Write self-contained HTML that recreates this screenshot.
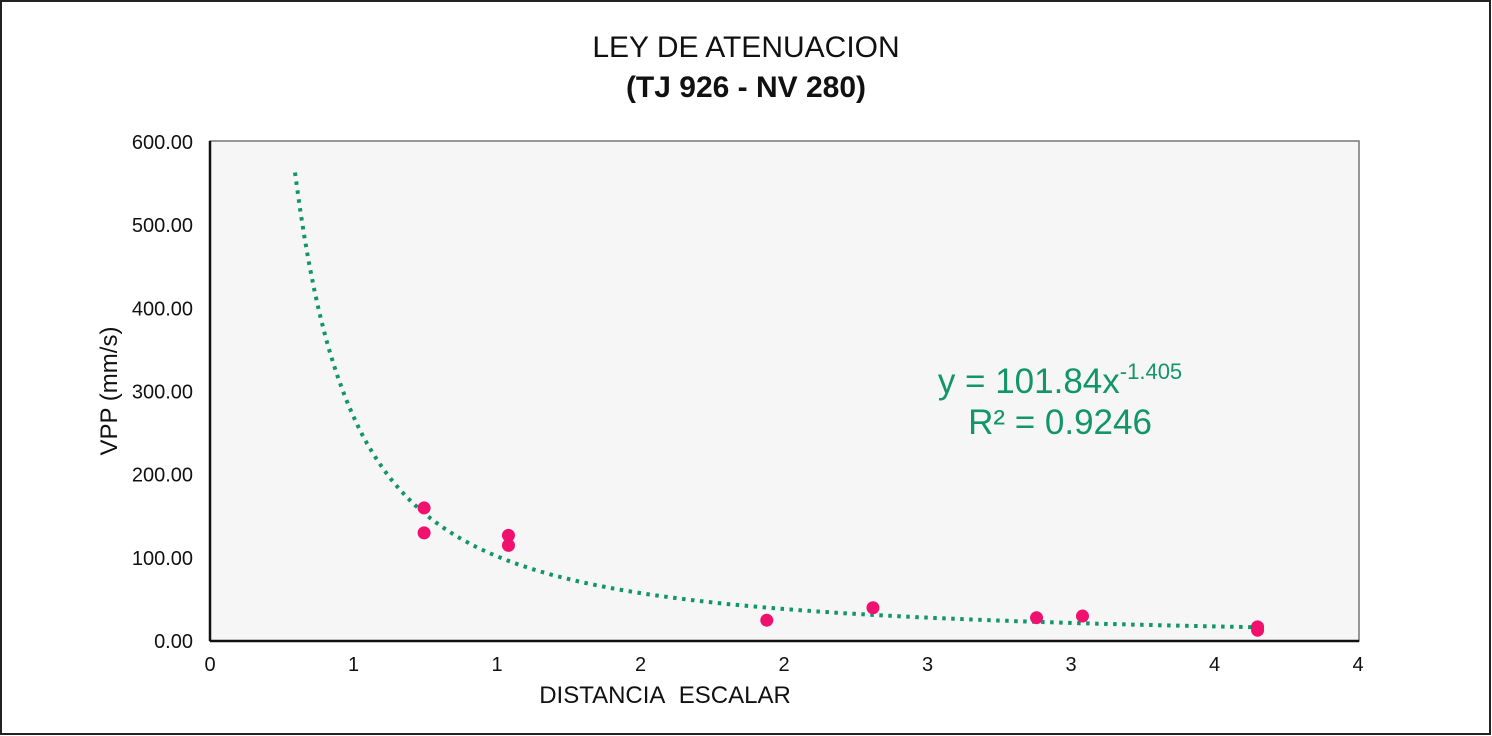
<!DOCTYPE html>
<html><head><meta charset="utf-8"><style>
body{margin:0;background:#fff;}
svg{display:block;font-family:"Liberation Sans",Arial,sans-serif;}
</style></head><body>
<svg id="chart" width="1492" height="736" viewBox="0 0 1492 736">
<rect x="1" y="1" width="1489" height="733" fill="#fff" stroke="#222" stroke-width="2"/>
<text x="746" y="57" text-anchor="middle" font-size="30" fill="#111">LEY DE ATENUACION</text>
<text x="746" y="97" text-anchor="middle" font-size="30" font-weight="bold" fill="#111">(TJ 926 - NV 280)</text>
<rect x="210" y="141" width="1149" height="500" fill="#f6f6f6" stroke="#777" stroke-width="1.5"/>
<g id="yticks"></g><g id="xticks"></g>
<line x1="210" y1="141" x2="210" y2="641" stroke="#111" stroke-width="2.5"/>
<line x1="210" y1="641" x2="1359" y2="641" stroke="#111" stroke-width="2.5"/>
<path id="trend" fill="none" stroke="#12956a" stroke-width="4" stroke-dasharray="3.5 5.5"/>
<g id="points"></g>
<text x="1060" y="393" text-anchor="middle" font-size="35" fill="#12956a">y = 101.84x<tspan font-size="22" dy="-14">-1.405</tspan></text>
<text x="1060" y="434" text-anchor="middle" font-size="35" fill="#12956a">R² = 0.9246</text>
<text x="665" y="703" text-anchor="middle" font-size="24" fill="#111">DISTANCIA&#160; ESCALAR</text>
<text transform="translate(117 391) rotate(-90)" text-anchor="middle" font-size="24" fill="#111">VPP (mm/s)</text>
</svg>
<script>
const xVals=[0.746,0.746,1.04,1.04,1.94,2.31,2.88,3.04,3.65,3.65];
const yVals=[160,130,127,115,25,40,28,30,17,13];
const yTicks=[0,100,200,300,400,500,600];
const yTickLabels=["0.00","100.00","200.00","300.00","400.00","500.00","600.00"];
const xTicks=[0,0.5,1,1.5,2,2.5,3,3.5,4];
const xTickLabels=["0","1","1","2","2","3","3","4","4"];
const trendCoef=101.84, trendExp=-1.405, trendRange=[0.296,3.65];
const ns="http://www.w3.org/2000/svg";
const X=v=>210+v*287, Y=v=>641-v*0.8317;
const yt=document.getElementById('yticks');
yTicks.forEach((t,i)=>{const e=document.createElementNS(ns,'text');
e.setAttribute('x',193);e.setAttribute('y',Y(t)+7);e.setAttribute('text-anchor','end');e.setAttribute('font-size','20');e.setAttribute('fill','#111');


e.textContent=yTickLabels[i];yt.appendChild(e);});
const xt=document.getElementById('xticks');
xTicks.forEach((t,i)=>{const e=document.createElementNS(ns,'text');
e.setAttribute('x',X(t));e.setAttribute('y',671);e.setAttribute('text-anchor','middle');e.setAttribute('font-size','20');e.setAttribute('fill','#111');


e.textContent=xTickLabels[i];xt.appendChild(e);});
let d='';for(let k=0;k<=200;k++){const x=trendRange[0]+(trendRange[1]-trendRange[0])*k/200;const y=trendCoef*Math.pow(x,trendExp);d+=(k?'L':'M')+X(x).toFixed(1)+' '+Y(y).toFixed(1);}
document.getElementById('trend').setAttribute('d',d);
const pg=document.getElementById('points');
xVals.forEach((x,i)=>{const c=document.createElementNS(ns,'circle');
c.setAttribute('cx',X(x));c.setAttribute('cy',Y(yVals[i]));c.setAttribute('r',6.5);c.setAttribute('fill','#f0106e');


pg.appendChild(c);});
</script>
</body></html>
